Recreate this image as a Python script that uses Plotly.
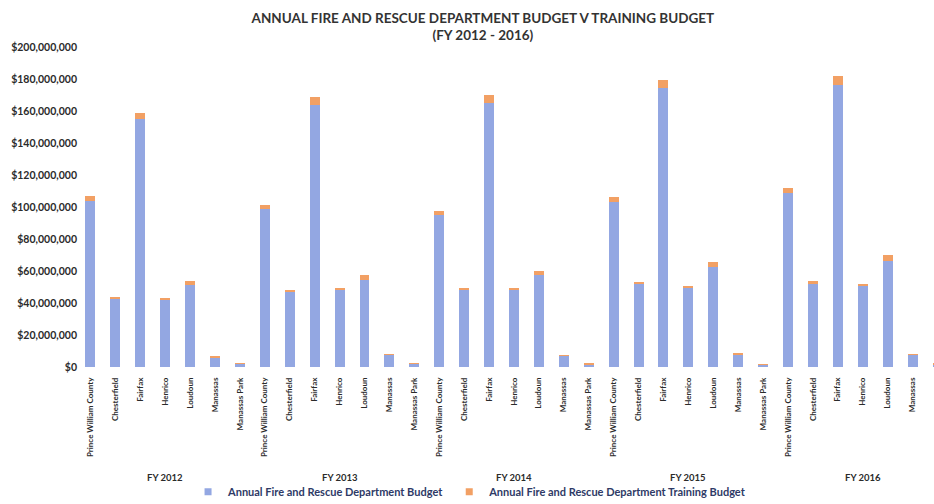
import plotly.graph_objects as go

years = ["FY 2012", "FY 2013", "FY 2014", "FY 2015", "FY 2016"]
departments = ["Prince William County", "Chesterfield", "Fairfax", "Henrico",
               "Loudoun", "Manassas", "Manassas Park"]

# annual fire & rescue budget, same order as departments
budget_2012 = [104000000, 42800000, 155000000, 42000000, 51000000, 6200000, 2000000]
budget_2013 = [98500000, 47300000, 164000000, 48500000, 54500000, 7800000, 2000000]
budget_2014 = [95200000, 48600000, 165000000, 48400000, 57500000, 7200000, 1800000]
budget_2015 = [103000000, 51600000, 174300000, 49600000, 62400000, 8000000, 1400000]
budget_2016 = [108500000, 52300000, 176500000, 50700000, 66500000, 7600000, 1800000]

# training budget
training_2012 = [3000000, 1000000, 4000000, 1000000, 2600000, 300000, 100000]
training_2013 = [2600000, 1100000, 5000000, 1000000, 2800000, 300000, 100000]
training_2014 = [2400000, 1000000, 5000000, 1000000, 2800000, 300000, 100000]
training_2015 = [3400000, 1300000, 5200000, 1000000, 3000000, 300000, 100000]
training_2016 = [3500000, 1200000, 5500000, 1000000, 3300000, 300000, 100000]

budget = budget_2012 + budget_2013 + budget_2014 + budget_2015 + budget_2016
training = training_2012 + training_2013 + training_2014 + training_2015 + training_2016

labels = departments * len(years)
pos = list(range(len(labels)))

FONT = "Lato, Open Sans, sans-serif"
BLUE = "#93a7e2"
ORANGE = "#f2a064"
NAME_B = "Annual Fire and Rescue Department Budget"
NAME_T = "Annual Fire and Rescue Department Training Budget"

fig = go.Figure()
fig.add_trace(go.Bar(x=pos, y=budget, name=NAME_B, showlegend=False,
                     marker=dict(color=BLUE, line=dict(width=0))))
fig.add_trace(go.Bar(x=pos, y=training, name=NAME_T, showlegend=False,
                     marker=dict(color=ORANGE, line=dict(width=0))))
# small square legend keys like the original
for name, col in [(NAME_B, BLUE), (NAME_T, ORANGE)]:
    fig.add_trace(go.Scatter(x=[None], y=[None], mode="markers", name=name,
                             marker=dict(symbol="square", size=7, color=col)))

# fiscal year labels under each group
n = len(departments)
for i, yr in enumerate(years):
    fig.add_annotation(x=i * n + (n - 1) / 2, y=-0.344, xref="x", yref="paper",
                       text=yr, showarrow=False, yanchor="middle",
                       font=dict(size=9.5, weight="bold", color="#2b2b2b"))

fig.update_layout(
    barmode="stack",
    bargap=0.6,
    width=934, height=504,
    margin=dict(l=78, r=0, t=47, b=137, autoexpand=False),
    paper_bgcolor="white", plot_bgcolor="white",
    font=dict(family=FONT, color="#2b2b2b"),
    title=dict(text="ANNUAL FIRE AND RESCUE DEPARTMENT BUDGET V TRAINING BUDGET<br>(FY 2012 - 2016)",
               x=0.517, xref="container", xanchor="center",
               y=0.955, yref="container", yanchor="top",
               font=dict(size=13.5, weight="bold", color="#333333")),
    showlegend=True,
    legend=dict(orientation="h", x=0.458, xanchor="center", y=-0.39, yanchor="middle",
                font=dict(size=11, weight="bold", color="#2e3a66"),
                itemwidth=30, traceorder="normal", itemclick=False),
)
fig.update_xaxes(range=[-0.5, 33.86], tickvals=pos, ticktext=labels,
                 showgrid=False, showline=False, zeroline=False, ticks="",
                 tickangle=-90, ticklabelstandoff=8,
                 tickfont=dict(size=8, weight="bold"), automargin=False)
fig.update_yaxes(range=[0, 200000000], dtick=20000000, tickformat="$,.0f",
                 showgrid=False, zeroline=False, showline=False,
                 tickfont=dict(size=10.5, weight="bold"), automargin=False)

# drop the default page margin so the figure sits flush with the window
fig.write_html("out.html", config={"displayModeBar": False},
               post_script="document.body.style.margin='0px';")
